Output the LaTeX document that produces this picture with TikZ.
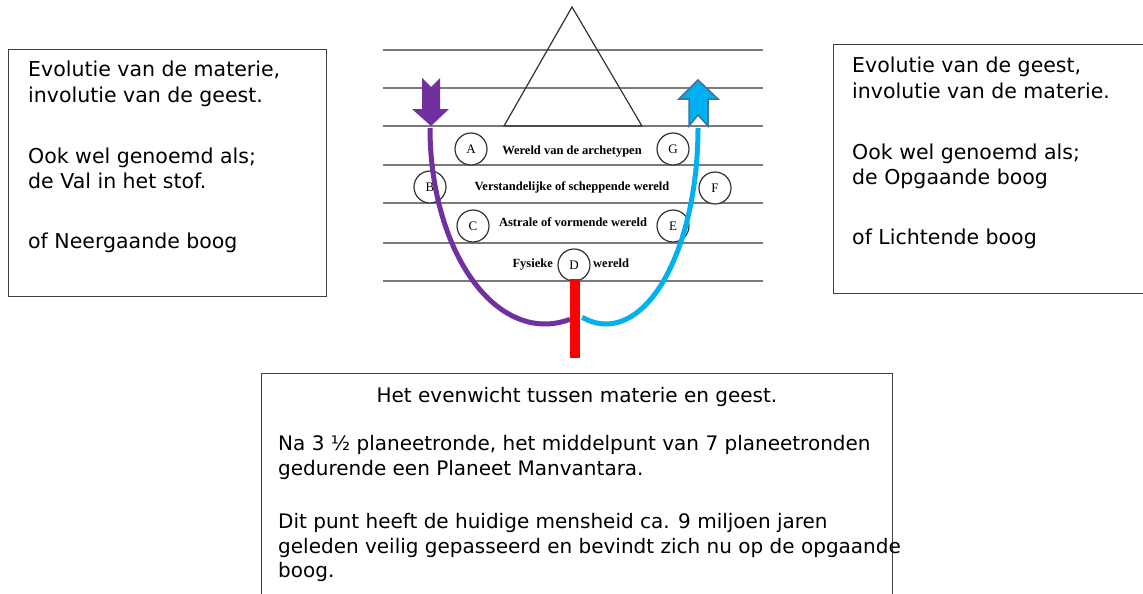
\documentclass[tikz,border=0pt]{standalone}
\usepackage{fontspec}
\setmainfont{DejaVu Sans}
\newfontfamily\serifb{Liberation Serif}
\definecolor{ppl}{HTML}{7030A0}
\definecolor{cyn}{HTML}{00B0F0}
\definecolor{cynedge}{HTML}{41719C}
\definecolor{layergray}{HTML}{7A7A7A}
\begin{document}
\begin{tikzpicture}[x=1pt,y=-1pt,
  boxframe/.style={draw=black!75, line width=1pt, rectangle, inner sep=0, anchor=north west},
  txt/.style={anchor=base west, inner sep=0, font=\fontsize{20.5}{24}\selectfont},
  btxt/.style={anchor=base west, inner sep=0, font=\fontsize{20}{24}\selectfont},
  layer/.style={draw=layergray, line width=1.3pt},
  lbl/.style={font=\serifb\bfseries\fontsize{12.5}{14}\selectfont, inner sep=0},
  ring/.style={circle, draw=black!80, line width=1.2pt, fill=white, minimum size=32pt, inner sep=0, font=\serifb\fontsize{13}{14}\selectfont},
  arcline/.style={line width=5pt}
]
\useasboundingbox (0,0) rectangle (1143,594);
\clip (0,0) rectangle (1143,594);
\fill[white] (0,0) rectangle (1143,594);

% boxes
\node[boxframe, minimum width=318pt, minimum height=247pt] (lbox) at (8,49) {};
\node[boxframe, minimum width=320pt, minimum height=249pt] (rbox) at (833,44) {};
\node[boxframe, minimum width=631pt, minimum height=240pt] (bbox) at (261,373) {};

% left texts
\node[txt] (l1) at (28,77) {Evolutie van de materie,};
\node[txt] (l2) at (28,102) {involutie van de geest.};
\node[txt] (l3) at (28,163) {Ook wel genoemd als;};
\node[txt] (l4) at (28,188) {de Val in het stof.};
\node[txt] (l5) at (28,248) {of Neergaande boog};

% right texts
\node[txt] (r1) at (852,73) {Evolutie van de geest,};
\node[txt] (r2) at (852,98) {involutie van de materie.};
\node[txt] (r3) at (852,159) {Ook wel genoemd als;};
\node[txt] (r4) at (852,184) {de Opgaande boog};
\node[txt] (r5) at (852,244) {of Lichtende boog};

% bottom texts
\node[btxt, anchor=base] (b0) at (577,402) {Het evenwicht tussen materie en geest.};
\node[btxt] (b1) at (278,450) {Na 3 ½ planeetronde, het middelpunt van 7 planeetronden};
\node[btxt] (b2) at (278,475) {gedurende een Planeet Manvantara.};
\node[btxt] (b3) at (278,528) {Dit punt heeft de huidige mensheid ca. 9 miljoen jaren};
\node[btxt] (b4) at (278,553) {geleden veilig gepasseerd en bevindt zich nu op de opgaande};
\node[btxt] (b5) at (278,577) {boog.};

% layers
\foreach \yy in {50,88,126,165,203,243,281}
  \draw[layer] (383,\yy) -- (763,\yy);

% triangle
\draw[black!80, line width=1.2pt, line join=miter] (572,7) -- (642,126) -- (504,126) -- cycle;

% labels
\node[lbl, anchor=base] (w1) at (572,154) {Wereld van de archetypen};
\node[lbl, anchor=base] (w2) at (572,190) {Verstandelijke of scheppende wereld};
\node[lbl, anchor=base] (w3) at (573,226.5) {Astrale of vormende wereld};
\node[lbl, anchor=base east] (w4a) at (553,267.5) {Fysieke};
\node[lbl, anchor=base west] (w4b) at (593,267.5) {wereld};

% circles
\node[ring] (A) at (471,149) {A};
\node[ring] (G) at (673,149) {G};
\node[ring] (B) at (430,187) {B};
\node[ring] (F) at (715,188) {F};
\node[ring] (C) at (473,226) {C};
\node[ring] (E) at (673,226) {E};
\node[ring] (D) at (574,265) {D};

% arrows
\fill[ppl] (422,78) -- (431,87) -- (440,78) -- (440,109) -- (449,109) -- (431,126) -- (412,109) -- (422,109) -- cycle;
\filldraw[fill=cyn, draw=cynedge, line width=1.5pt, line join=miter] (698,80) -- (718,99) -- (708,99) -- (708,126) -- (698,115) -- (689,126) -- (689,99) -- (679,99) -- cycle;

\coordinate (pstart) at (430,128);
\coordinate (cstart) at (698,128);
\draw[arcline, ppl] (pstart) arc[start angle=180, end angle=77.5, x radius=115, y radius=196];
\draw[arcline, cyn] (cstart) arc[start angle=0, end angle=105, x radius=92, y radius=196];

% red bar
\node[fill=red, minimum width=10pt, minimum height=79pt, inner sep=0, anchor=north] (bar) at (575,279) {};
\end{tikzpicture}
\end{document}
